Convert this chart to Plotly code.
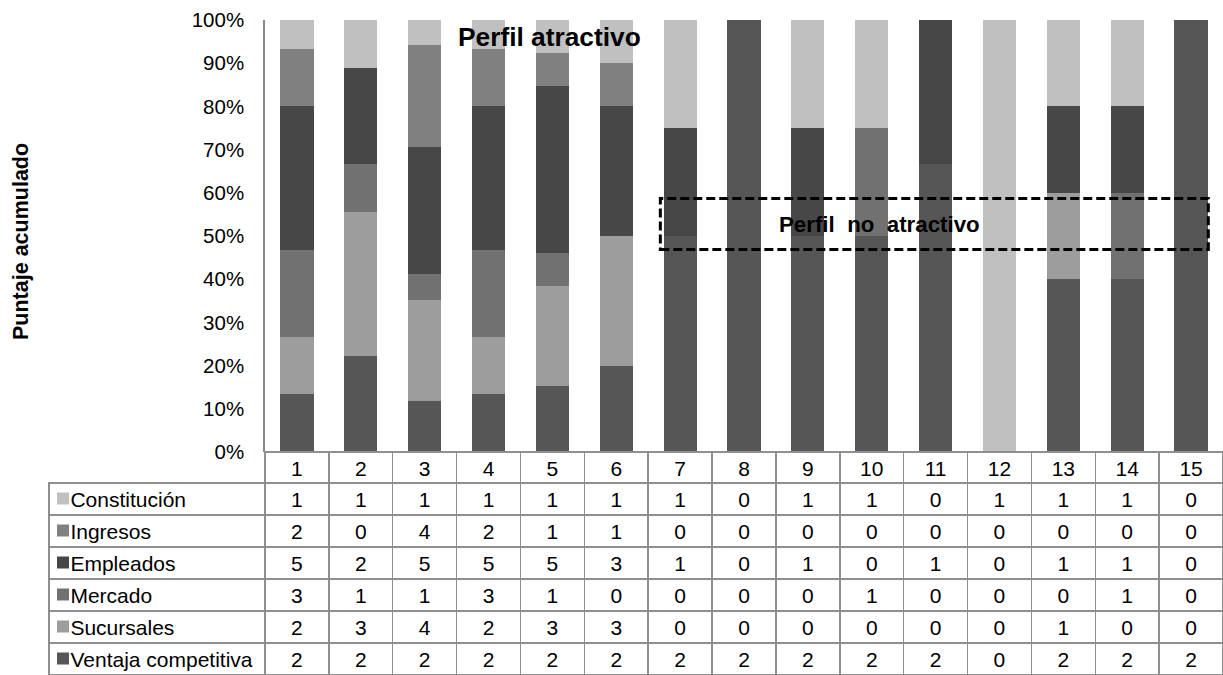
import plotly.graph_objects as go

categories = [str(i) for i in range(1, 16)]

series_names = ["Constitución", "Ingresos", "Empleados", "Mercado", "Sucursales", "Ventaja competitiva"]
constitucion = [1, 1, 1, 1, 1, 1, 1, 0, 1, 1, 0, 1, 1, 1, 0]
ingresos = [2, 0, 4, 2, 1, 1, 0, 0, 0, 0, 0, 0, 0, 0, 0]
empleados = [5, 2, 5, 5, 5, 3, 1, 0, 1, 0, 1, 0, 1, 1, 0]
mercado = [3, 1, 1, 3, 1, 0, 0, 0, 0, 1, 0, 0, 0, 1, 0]
sucursales = [2, 3, 4, 2, 3, 3, 0, 0, 0, 0, 0, 0, 1, 0, 0]
ventaja = [2, 2, 2, 2, 2, 2, 2, 2, 2, 2, 2, 0, 2, 2, 2]

series_values = [constitucion, ingresos, empleados, mercado, sucursales, ventaja]
series_colors = ["#c0c0c0", "#808080", "#474747", "#717171", "#9d9d9d", "#565656"]

y_ticks = [0, 10, 20, 30, 40, 50, 60, 70, 80, 90, 100]
y_tick_labels = [f"{v}%" for v in y_ticks]

FONT = "Liberation Sans, Arial, sans-serif"
W, H = 1223, 675
GRID = "#8f8f8f"
CLEAR = "rgba(0,0,0,0)"
NBSP = "\u00a0"

# plot area in pixels
px_left, px_right = 265, 1223
px_top, px_bottom = 20, 452
table_left = 49
header_h = 31
row_h = 32

fig = go.Figure()

# stacked bars: bottom to top = reverse of table order
for name, vals, col in reversed(list(zip(series_names, series_values, series_colors))):
    fig.add_trace(go.Bar(
        x=categories, y=vals, name=name,
        marker=dict(color=col, line=dict(width=0)),
        showlegend=False, hoverinfo="skip",
    ))

# data table below the chart
label_cells = [NBSP * 2 + "\u200a" + n.replace(" ", NBSP) for n in series_names]
table_values = [label_cells] + [[str(v[i]) for v in series_values] for i in range(len(categories))]

ncol = len(categories)
col_w = (px_right - px_left) / ncol
fig.add_trace(go.Table(
    domain=dict(x=[table_left / W, 1], y=[0, 1 - px_bottom / H]),
    columnwidth=[px_left - table_left] + [col_w] * ncol,
    header=dict(
        values=[""] + categories,
        fill=dict(color=[CLEAR] + ["white"] * ncol),
        line=dict(color=[CLEAR] + [GRID] * ncol, width=1.5),
        font=dict(family=FONT, size=21, color="black"),
        align="center",
        height=header_h,
    ),
    cells=dict(
        values=table_values,
        fill=dict(color="white"),
        line=dict(color=GRID, width=1.5),
        font=dict(family=FONT, size=21, color="black"),
        align=["left"] + ["center"] * ncol,
        height=row_h,
    ),
))

# legend swatches inside the table's first column
shapes = []
for k, col in enumerate(series_colors):
    yc = px_bottom + header_h + row_h * (k + 0.5) - 0.5
    shapes.append(dict(
        type="rect", xref="paper", yref="paper",
        x0=57 / W, x1=69 / W,
        y0=1 - (yc + 6) / H, y1=1 - (yc - 6) / H,
        fillcolor=col, line=dict(width=0), layer="above",
    ))

shapes.append(dict(
    type="rect", xref="x", yref="y",
    x0=5.69, x1=14.27, y0=46.9, y1=58.7,
    line=dict(color="black", width=3, dash="9px,4px"),
    fillcolor=CLEAR, layer="above",
))

fig.update_layout(
    width=W, height=H,
    margin=dict(l=0, r=0, t=0, b=0, autoexpand=False),
    paper_bgcolor="white", plot_bgcolor="white",
    barmode="stack", barnorm="percent", bargap=0.48,
    font=dict(family=FONT, size=20, color="black"),
    xaxis=dict(
        domain=[px_left / W, px_right / W],
        type="category", categoryorder="array", categoryarray=categories,
        showticklabels=False, ticks="", showgrid=False, zeroline=False, showline=False,
        fixedrange=True, automargin=False,
    ),
    yaxis=dict(
        domain=[1 - px_bottom / H, 1 - px_top / H],
        range=[0, 100], tickmode="array", tickvals=y_ticks, ticktext=y_tick_labels,
        showgrid=False, zeroline=False, showline=True, linecolor="#868686", linewidth=1.5,
        ticks="", ticklabelstandoff=15, automargin=False,
        tickfont=dict(family=FONT, size=20.5, color="black"),
        fixedrange=True,
    ),
    shapes=shapes,
    annotations=[
        dict(text="<b>Perfil atractivo</b>", xref="x", yref="y", x=3.96, y=96.0,
             showarrow=False, font=dict(family=FONT, size=26.3, color="black"),
             xanchor="center", yanchor="middle"),
        dict(text="<b>Perfil&nbsp; no&nbsp; atractivo</b>", xref="x", yref="y", x=9.12, y=52.6,
             showarrow=False, font=dict(family=FONT, size=22.3, color="black"),
             xanchor="center", yanchor="middle"),
        dict(text="<b>Puntaje acumulado</b>", xref="paper", yref="paper",
             x=21 / W, y=1 - 242 / H, textangle=-90,
             showarrow=False, font=dict(family=FONT, size=21.5, color="black"),
             xanchor="center", yanchor="middle"),
    ],
)

fig.write_html(
    "out.html",
    config={"displayModeBar": False},
    post_script="document.body.style.margin='0';document.body.style.overflow='hidden';",
)
